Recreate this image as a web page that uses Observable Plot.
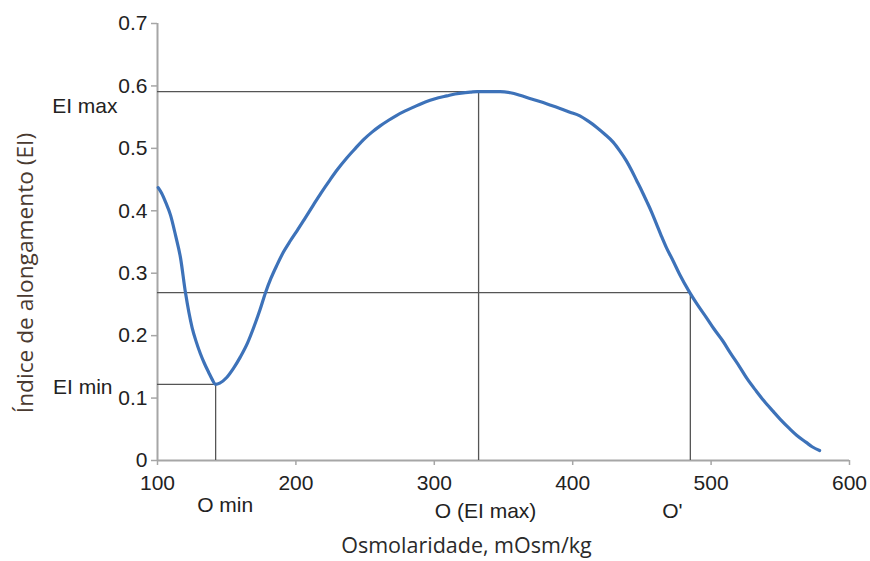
<!DOCTYPE html>
<html>
<head>
<meta charset="utf-8">
<script src="https://cdn.jsdelivr.net/npm/d3@7"></script>
<script src="https://cdn.jsdelivr.net/npm/@observablehq/plot@0.6"></script>
<style>
  html, body { margin: 0; padding: 0; background: #fff; }
  #chart svg { display: block; }
</style>
</head>
<body>
<div id="chart"></div>
<script>
// Osmotic gradient ektacytometry curve
const osmolarity = [100.5, 103, 106, 109.4, 113, 116.6, 120.2, 125, 128, 131, 134, 137, 139.5, 141.8, 145, 150, 155, 159.9, 165, 169.5, 174, 177.9, 182, 186.3, 191, 196, 200.8, 206, 212.8, 218, 224.8, 230, 236.9, 243, 248.9, 255, 260.9, 267, 272.9, 279, 285, 291, 297, 303, 309, 315, 321, 326, 331, 340, 347.5, 355, 361.9, 369, 376.3, 383, 390.8, 398, 405.2, 411, 417.2, 423, 429.2, 434, 438.8, 442.5, 446.1, 449.7, 453.3, 457, 460.5, 464, 467.7, 472.5, 477.3, 484.6, 490, 496.6, 502, 508.6, 514, 520.6, 526, 532.7, 538, 544.7, 550, 556.7, 562, 568.7, 573, 578.4];
const elongation = [0.437, 0.428, 0.413, 0.393, 0.361, 0.325, 0.269, 0.213, 0.19, 0.171, 0.155, 0.141, 0.13, 0.122, 0.124, 0.133, 0.148, 0.166, 0.188, 0.213, 0.241, 0.268, 0.292, 0.313, 0.334, 0.352, 0.368, 0.386, 0.410, 0.428, 0.450, 0.466, 0.485, 0.500, 0.514, 0.526, 0.536, 0.545, 0.553, 0.560, 0.566, 0.572, 0.577, 0.581, 0.584, 0.587, 0.589, 0.590, 0.591, 0.591, 0.591, 0.589, 0.585, 0.580, 0.575, 0.570, 0.564, 0.558, 0.552, 0.544, 0.534, 0.523, 0.510, 0.496, 0.480, 0.465, 0.449, 0.433, 0.416, 0.398, 0.379, 0.360, 0.341, 0.320, 0.298, 0.269, 0.250, 0.229, 0.211, 0.191, 0.172, 0.150, 0.131, 0.111, 0.096, 0.079, 0.066, 0.051, 0.040, 0.029, 0.022, 0.016];

// Reference points: O min / EI min, O(EI max) / EI max, O' / intermediate level
const refLabelsX = ["O min", "O (EI max)", "O'"];
const refLabelsY = ["EI min", "EI max"];
const refOsm = [142, 332, 485];
const refEI = [0.122, 0.591, 0.269];

const xTicks = [100, 200, 300, 400, 500, 600];
const yTicks = [0, 0.1, 0.2, 0.3, 0.4, 0.5, 0.6, 0.7];
const xTitle = "Osmolaridade, mOsm/kg";
const yTitle = "Índice de alongamento (EI)";

const curve = osmolarity.map((x, i) => ({x, y: elongation[i]}));
const refs = refOsm.map((x, i) => ({x, y: refEI[i]}));

const tickFont = "'Liberation Sans', Arial, sans-serif";
const titleFont = "'Open Sans', sans-serif";
const axisGray = "#a6a6a6";
const refGray = "#555";
const textColor = "#222";

const chart = Plot.plot({
  width: 870,
  height: 561,
  marginLeft: 157,
  marginRight: 21,
  marginTop: 23,
  marginBottom: 101,
  style: {fontFamily: tickFont, color: textColor, background: "#fff", overflow: "visible"},
  x: {domain: [100, 600]},
  y: {domain: [0, 0.7]},
  marks: [
    // axis lines
    Plot.ruleY([0], {stroke: axisGray, strokeWidth: 2}),
    Plot.ruleX([100], {stroke: axisGray, strokeWidth: 2}),
    Plot.axisX({ticks: xTicks, tickSize: 5, tickPadding: 10, fontSize: 21, stroke: axisGray, strokeWidth: 1.5, label: null, tickFormat: d => String(d), fill: textColor}),
    Plot.axisY({ticks: yTicks, tickSize: 6, tickPadding: 4, fontSize: 21, stroke: axisGray, strokeWidth: 1.5, label: null, tickFormat: d => d === 0 ? "0" : d3.format(".1f")(d), fill: textColor}),
    // reference lines
    Plot.ruleX(refs, {x: "x", y1: 0, y2: "y", stroke: refGray, strokeWidth: 1.3}),
    Plot.ruleY(refs, {y: "y", x1: 100, x2: "x", stroke: refGray, strokeWidth: 1.3}),
    // curve
    Plot.line(curve, {x: "x", y: "y", stroke: "#3d72b9", strokeWidth: 3.2, curve: "monotone-x"}),
    // annotations on y side
    Plot.text([refLabelsY[0]], {x: 100, y: refEI[0], dx: -45, dy: 3, textAnchor: "end", fontSize: 21, fill: textColor}),
    Plot.text([refLabelsY[1]], {x: 100, y: refEI[1], dx: -40, dy: 15, textAnchor: "end", fontSize: 21, fill: textColor}),
    // annotations on x side
    Plot.text([refLabelsX[0]], {x: refOsm[0], y: 0, dx: 9.5, dy: 45, fontSize: 21, fill: textColor}),
    Plot.text([refLabelsX[1]], {x: refOsm[1], y: 0, dx: 7, dy: 51, fontSize: 21, fill: textColor}),
    Plot.text([refLabelsX[2]], {x: refOsm[2], y: 0, dx: -18, dy: 51, fontSize: 21, fill: textColor}),
    // axis titles
    Plot.text([xTitle], {frameAnchor: "bottom", textAnchor: "middle", lineAnchor: "middle", dx: -37, dy: 86, fontSize: 21.5, fontFamily: titleFont, fill: "#2a2a2a"}),
    Plot.text([yTitle], {frameAnchor: "left", textAnchor: "middle", lineAnchor: "middle", dx: -132, dy: 31, rotate: -90, fontSize: 22.7, fontFamily: titleFont, fill: "#4a3a30"})
  ]
});
document.getElementById("chart").appendChild(chart);
</script>
</body>
</html>
